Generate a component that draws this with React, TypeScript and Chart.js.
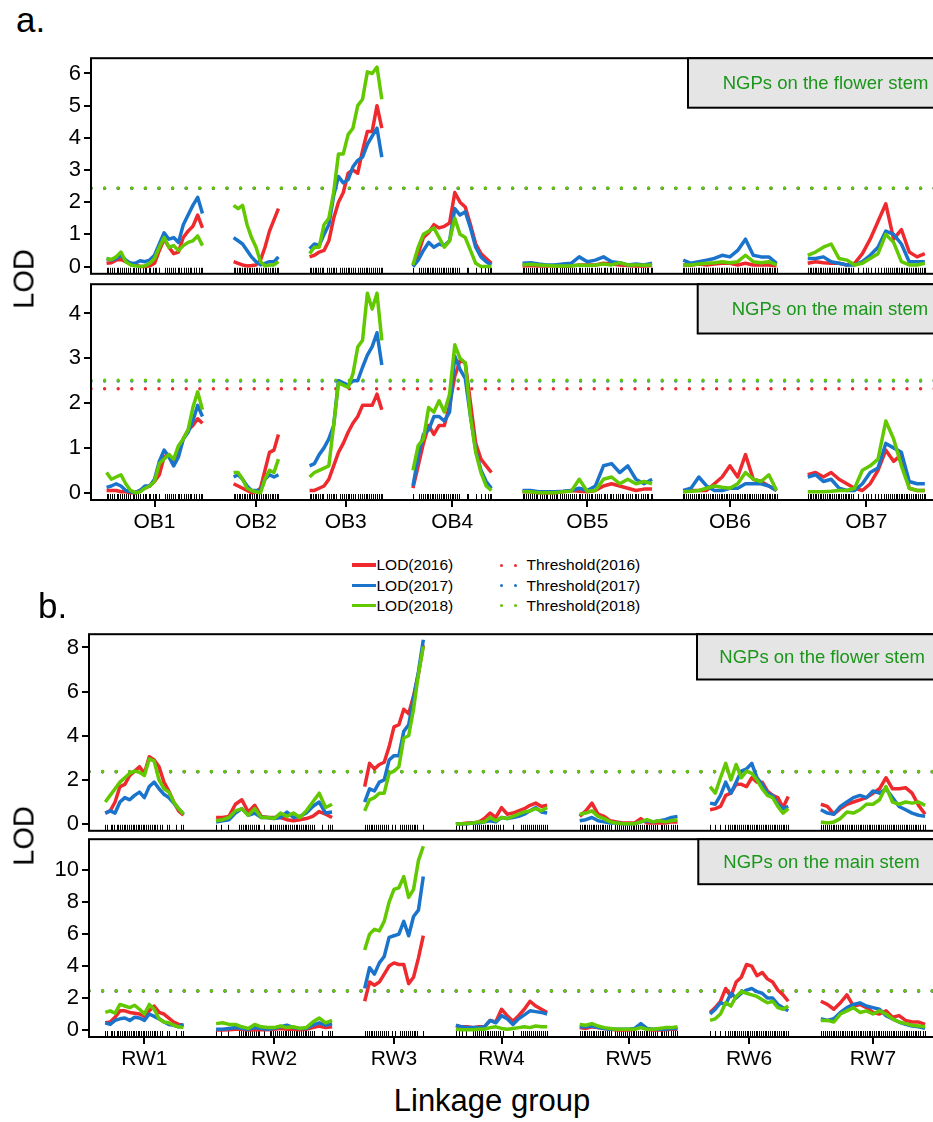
import React, { useEffect, useRef } from 'react';
import { Chart, registerables } from 'chart.js';

Chart.register(...registerables);

const FONT = "'Liberation Sans', Arial, Helvetica, sans-serif";
const RED = '#ee2a2e';
const BLUE = '#1b74cc';
const GREEN = '#62c800';
const TEXT_GREEN = '#1a961a';
const GAP = 25;

// ---------- maps ----------
const OB_NAMES = ['OB1', 'OB2', 'OB3', 'OB4', 'OB5', 'OB6', 'OB7'];
const OB_LENGTHS = [77, 36, 58, 63, 104, 75, 94];
const RW_NAMES = ['RW1', 'RW2', 'RW3', 'RW4', 'RW5', 'RW6', 'RW7'];
const RW_LENGTHS = [60, 89, 45, 70, 75, 60, 80];

const OB_MARKERS = [
  [0, 1.5, 3, 4.5, 6, 8, 9, 11, 12.5, 14, 16, 17.5, 19, 21, 22, 24, 25.5, 27, 29, 30.5, 32, 34, 35, 37, 39, 40, 42, 47, 48.5, 50, 52, 53.5, 55, 57, 58, 60, 62, 63.5, 65, 67, 68, 70, 72, 74, 76, 77],
  [0, 1, 2.5, 4, 5, 6.5, 8, 9.5, 11, 12, 13.5, 15, 16.5, 18, 19, 20.5, 22, 23.5, 25, 26, 27.5, 29, 30.5, 32, 33, 34.5, 36],
  [0, 1, 2.5, 4, 5.5, 7, 8.5, 10, 11, 14, 15.5, 17, 18.5, 20, 21, 24.5, 26, 27.5, 29, 30.5, 32, 33.5, 35, 36.5, 39, 40.5, 42, 43.5, 45, 46.5, 48, 49.5, 51, 52.5, 54, 55.5, 57, 58],
  [0, 5, 6.5, 8, 9.5, 11, 12, 13.5, 15, 16.5, 18, 19.5, 21, 22.5, 24, 25, 26.5, 28, 29.5, 31, 32.5, 34, 35, 37, 43, 44.5, 51, 55, 58, 60.5, 62, 63],
  [0, 1.5, 3, 4, 6, 7.5, 9, 11, 12, 14, 15.5, 17, 19, 20, 22, 23.5, 25, 27, 28, 30, 32, 33, 35, 36.5, 38, 40, 41, 43, 45, 46, 48, 50, 51.5, 53, 55, 56, 58, 60, 61.5, 63, 65, 66, 68, 70, 71, 73, 75, 76.5, 78, 80, 81, 83, 85, 86.5, 88, 90, 91, 93, 95, 96.5, 98, 100, 101, 103, 104],
  [0, 1, 2.5, 4, 5.5, 7, 8.5, 10, 11.5, 13, 14, 15.5, 17, 18.5, 20, 21.5, 23, 24, 25.5, 27, 28.5, 30, 31.5, 33, 34, 35.5, 37, 38.5, 40, 41.5, 43, 44, 45.5, 47, 48.5, 50, 51.5, 53, 54, 55.5, 57, 58.5, 60, 61.5, 63, 64, 65.5, 67, 68.5, 70, 71.5, 73, 74, 75],
  [0, 1.5, 3, 4, 5.5, 7, 8.5, 10, 11, 12.5, 14, 15.5, 17, 18, 19.5, 21, 22.5, 24, 25, 26.5, 28, 29.5, 31, 32, 33.5, 35, 36.5, 40, 44, 47, 48, 51, 54, 56, 59, 61, 63, 64.5, 66, 67.5, 69, 70.5, 72, 73, 74.5, 76, 77.5, 79, 80, 81.5, 83, 84.5, 86, 87, 88.5, 90, 91.5, 93, 94],
];

const RW_MARKERS = [
  [0, 1, 4, 5, 6.5, 9, 10, 11.5, 13, 14, 15.5, 17, 18, 19.5, 21, 22, 23.5, 25, 26, 27.5, 29, 30, 31.5, 33, 34, 35.5, 37, 38, 39.5, 42, 43.5, 47, 49, 54, 58, 60],
  [0, 4, 9, 17.5, 19, 20.5, 22, 23, 24.5, 26, 27.5, 29, 30.5, 32, 33, 37, 41, 42.5, 44, 45.5, 47, 48, 49.5, 51, 52.5, 54, 55, 56.5, 58, 59.5, 61, 62, 63.5, 65, 66.5, 68, 69, 70.5, 72, 73.5, 75, 81, 86, 87.5, 89],
  [0, 1.5, 3, 4.5, 6, 7.5, 9, 10.5, 12, 13.5, 15, 16.5, 18, 21, 23.5, 27, 28.5, 30, 31.5, 33, 34.5, 36, 37.5, 39, 40.5, 45],
  [0, 2.5, 5, 8, 13, 14.5, 16, 17.5, 19, 20.5, 22, 23.5, 25, 26.5, 28, 29.5, 31, 32.5, 34, 36, 44, 50, 51.5, 53, 54.5, 56, 57.5, 59, 60.5, 62, 63.5, 65, 66.5, 68, 70],
  [0, 1.5, 3, 4, 5.5, 7, 8.5, 10, 11, 12.5, 14, 15.5, 17, 18, 19.5, 21, 22.5, 24, 27, 28.5, 30, 32, 33.5, 35, 36.5, 38, 39, 40.5, 42, 43.5, 45, 46, 47.5, 49, 50.5, 52, 53, 54.5, 56, 57.5, 59, 62, 63.5, 65, 66.5, 68, 70, 71.5, 73, 75],
  [0, 3.5, 7.5, 11.5, 14, 15, 16.5, 18, 19.5, 21, 22, 23.5, 25, 26.5, 28, 29, 30.5, 32, 33.5, 35, 36, 37.5, 39, 40.5, 42, 43, 44.5, 46, 47.5, 49, 50, 51.5, 53, 54.5, 56, 57, 58.5, 60],
  [0, 1.5, 3, 4.5, 6, 7.5, 9, 10, 11.5, 13, 14.5, 16, 17, 18.5, 20, 21.5, 23, 24, 25.5, 27, 28.5, 30, 31, 32.5, 34, 35.5, 37, 38, 39.5, 41, 42.5, 44, 45, 46.5, 48, 49.5, 51, 52, 53.5, 55, 56.5, 58, 59, 60.5, 62, 63.5, 65, 66, 67.5, 69, 70.5, 72, 73, 74.5, 76, 78, 80],
];

// ---------- panel a: NGPs on the flower stem ----------
const A_FLOWER_2016 = [
  [0.1, 0.12, 0.2, 0.22, 0.15, 0.1, 0.05, 0.0, 0.0, 0.02, 0.1, 0.5, 0.85, 0.6, 0.4, 0.45, 0.9, 1.1, 1.25, 1.6, 1.2],
  [0.15, 0.1, 0.05, 0.02, 0.03, 0.05, 0.2, 0.6, 1.1, 1.45, 1.8],
  [0.3, 0.35, 0.45, 0.5, 0.8, 1.5, 2.0, 2.3, 2.9, 3.0, 2.9, 3.6, 4.2, 4.2, 5.0, 4.3],
  [0.05, 0.4, 0.9, 1.05, 1.3, 1.2, 1.25, 1.35, 2.3, 2.0, 1.85, 1.3, 0.7, 0.4, 0.25, 0.1],
  [0.02, 0.03, 0.02, 0.02, 0.03, 0.02, 0.02, 0.05, 0.05, 0.05, 0.1, 0.08, 0.05, 0.03, 0.02, 0.02, 0.03],
  [0.05, 0.05, 0.08, 0.05, 0.08, 0.1, 0.1, 0.05, 0.1, 0.05, 0.05, 0.05, 0.02],
  [0.1, 0.15, 0.12, 0.1, 0.1, 0.05, 0.1, 0.4, 0.85, 1.4, 1.95, 0.85, 1.15, 0.45, 0.3, 0.4],
];
const A_FLOWER_2017 = [
  [0.25, 0.2, 0.25, 0.35, 0.2, 0.1, 0.1, 0.18, 0.15, 0.2, 0.35, 0.7, 1.05, 0.85, 0.9, 0.75, 1.3, 1.6, 1.9, 2.15, 1.65],
  [0.9, 0.8, 0.7, 0.5, 0.3, 0.15, 0.05, 0.1, 0.15, 0.15, 0.3],
  [0.55, 0.7, 0.65, 1.0, 1.3, 2.2, 2.8, 2.6, 2.7, 3.1, 3.3, 3.4, 3.8, 4.05, 4.3, 3.4],
  [0.0, 0.2, 0.5, 0.75, 0.6, 0.7, 0.65, 0.8, 1.8, 1.6, 1.7, 1.2, 0.6, 0.3, 0.15, 0.05],
  [0.1, 0.12, 0.08, 0.05, 0.05, 0.08, 0.1, 0.3, 0.15, 0.2, 0.3, 0.15, 0.12, 0.05, 0.08, 0.05, 0.1],
  [0.2, 0.1, 0.15, 0.2, 0.25, 0.35, 0.3, 0.5, 0.85, 0.35, 0.3, 0.3, 0.1],
  [0.25, 0.25, 0.3, 0.15, 0.1, 0.05, 0.05, 0.15, 0.35, 0.6, 1.1, 1.0, 0.7, 0.15, 0.15, 0.15],
];
const A_FLOWER_2018 = [
  [0.25, 0.22, 0.3, 0.45, 0.15, 0.05, 0.02, 0.0, 0.02, 0.1, 0.25, 0.6, 0.9, 0.6, 0.65, 0.5, 0.65, 0.75, 0.8, 0.95, 0.65],
  [1.9, 1.8, 1.9, 1.3, 0.9, 0.6, 0.15, 0.02, 0.05, 0.05, 0.15],
  [0.4, 0.6, 0.6, 1.3, 1.5, 2.3, 3.5, 3.5, 4.1, 4.3, 5.0, 5.2, 6.05, 6.0, 6.2, 5.2],
  [0.05, 0.6, 1.0, 1.1, 1.2, 0.9, 0.6, 0.8, 1.5, 1.0, 0.9, 0.5, 0.1, 0.0, 0.0, 0.0],
  [0.05, 0.07, 0.05, 0.03, 0.02, 0.02, 0.02, 0.05, 0.03, 0.05, 0.08, 0.05, 0.12, 0.05, 0.05, 0.04, 0.05],
  [0.05, 0.05, 0.08, 0.1, 0.12, 0.15, 0.12, 0.15, 0.35, 0.15, 0.12, 0.15, 0.05],
  [0.35, 0.45, 0.6, 0.7, 0.25, 0.2, 0.05, 0.1, 0.25, 0.4, 1.0, 0.75, 0.15, 0.05, 0.05, 0.1],
];
const A_FLOWER_THRESH = [2.43, 2.43, 2.44];
const A_FLOWER_YTICKS = [0, 1, 2, 3, 4, 5, 6];

// ---------- panel a: NGPs on the main stem ----------
const A_MAIN_2016 = [
  [0.05, 0.05, 0.05, 0.02, 0.02, 0.0, 0.0, 0.05, 0.1, 0.15, 0.25, 0.4, 0.8, 0.85, 0.7, 0.9, 1.2, 1.4, 1.5, 1.65, 1.55],
  [0.2, 0.15, 0.1, 0.05, 0.0, 0.02, 0.1, 0.5, 0.9, 0.95, 1.3],
  [0.05, 0.05, 0.1, 0.15, 0.3, 0.6, 0.9, 1.1, 1.35, 1.55, 1.7, 1.95, 1.95, 1.95, 2.2, 1.85],
  [0.1, 0.6, 1.1, 1.5, 1.3, 1.5, 1.5, 1.95, 2.6, 2.95, 2.9, 2.0, 1.1, 0.75, 0.6, 0.45],
  [0.02, 0.02, 0.0, 0.0, 0.0, 0.02, 0.05, 0.03, 0.02, 0.05, 0.15, 0.2, 0.15, 0.1, 0.05, 0.08, 0.08],
  [0.02, 0.05, 0.05, 0.05, 0.2, 0.35, 0.6, 0.35, 0.85, 0.3, 0.25, 0.15, 0.05],
  [0.4, 0.45, 0.35, 0.45, 0.3, 0.2, 0.1, 0.05, 0.2, 0.5, 0.95, 0.7, 0.85, 0.1, 0.05, 0.05],
];
const A_MAIN_2017 = [
  [0.12, 0.15, 0.2, 0.15, 0.05, 0.02, 0.0, 0.05, 0.15, 0.15, 0.3, 0.7, 0.95, 0.8, 0.6, 0.8, 1.2, 1.35, 1.6, 1.95, 1.7],
  [0.35, 0.4, 0.3, 0.15, 0.05, 0.05, 0.05, 0.3, 0.4, 0.35, 0.4],
  [0.6, 0.65, 0.85, 1.0, 1.2, 1.5, 2.5, 2.45, 2.4, 2.5, 2.5, 2.8, 3.07, 3.26, 3.57, 2.85],
  [0.15, 0.8, 1.3, 1.4, 1.7, 1.7, 1.6, 1.8, 3.05, 2.75, 2.55, 1.7, 0.95, 0.5, 0.25, 0.1],
  [0.05, 0.05, 0.02, 0.02, 0.02, 0.03, 0.05, 0.1, 0.05, 0.15, 0.6, 0.65, 0.45, 0.6, 0.3, 0.2, 0.3],
  [0.05, 0.1, 0.35, 0.15, 0.05, 0.05, 0.1, 0.1, 0.2, 0.2, 0.2, 0.15, 0.05],
  [0.35, 0.4, 0.25, 0.3, 0.1, 0.05, 0.05, 0.2, 0.45, 0.55, 1.1, 1.0, 0.9, 0.25, 0.2, 0.2],
];
const A_MAIN_2018 = [
  [0.45, 0.3, 0.35, 0.4, 0.2, 0.05, 0.0, 0.02, 0.1, 0.15, 0.25, 0.65, 0.75, 0.85, 0.75, 1.05, 1.2, 1.4, 1.9, 2.25, 1.85],
  [0.45, 0.45, 0.3, 0.1, 0.05, 0.02, 0.0, 0.3, 0.5, 0.45, 0.75],
  [0.35, 0.45, 0.5, 0.55, 0.6, 1.5, 2.45, 2.4, 2.35, 2.65, 3.25, 3.4, 4.45, 4.1, 4.45, 3.4],
  [0.5, 1.05, 1.2, 1.9, 1.8, 2.05, 1.8, 2.2, 3.3, 3.0, 2.9, 1.7, 0.9, 0.45, 0.15, 0.05],
  [0.02, 0.02, 0.0, 0.0, 0.0, 0.02, 0.03, 0.3, 0.03, 0.05, 0.3, 0.35, 0.2, 0.3, 0.2, 0.25, 0.2],
  [0.02, 0.03, 0.05, 0.1, 0.15, 0.12, 0.1, 0.2, 0.45, 0.3, 0.25, 0.4, 0.05],
  [0.02, 0.02, 0.02, 0.03, 0.05, 0.05, 0.1, 0.5, 0.6, 0.75, 1.6, 1.2, 0.6, 0.1, 0.05, 0.05],
];
const A_MAIN_THRESH = [2.32, 2.49, 2.51];
const A_MAIN_YTICKS = [0, 1, 2, 3, 4];

// ---------- panel b: NGPs on the flower stem ----------
const B_FLOWER_2016 = [
  [0.5, 0.6, 1.0, 1.7, 1.8, 2.2, 2.4, 2.6, 2.3, 3.05, 2.9, 2.6, 1.9, 1.5, 1.0, 0.6, 0.4],
  [0.3, 0.3, 0.35, 0.9, 1.1, 0.55, 0.85, 0.35, 0.3, 0.3, 0.3, 0.2, 0.15, 0.2, 0.25, 0.35, 0.57, 0.45, 0.3],
  [1.7, 2.75, 2.5, 2.7, 2.8, 3.5, 4.4, 4.5, 5.2, 5.0, 5.8, 6.8, 8.1],
  [0.0, 0.02, 0.05, 0.05, 0.1, 0.25, 0.5, 0.3, 0.75, 0.45, 0.5, 0.6, 0.7, 0.85, 0.95, 0.8, 0.85],
  [0.35, 0.6, 0.95, 0.45, 0.35, 0.15, 0.1, 0.05, 0.05, 0.05, 0.25, 0.05, 0.05, 0.05, 0.05, 0.1, 0.1],
  [0.65, 0.7, 0.8, 1.3, 1.4, 1.8, 1.8, 1.7, 2.1, 1.9, 1.9, 1.5, 1.3, 1.2, 0.75, 1.25],
  [0.9, 0.8, 0.45, 0.7, 0.9, 1.0, 1.1, 1.2, 1.4, 1.6, 2.1, 1.6, 1.6, 1.65, 1.4, 0.85, 0.45],
];
const B_FLOWER_2017 = [
  [0.5, 0.6, 0.5, 1.0, 1.2, 1.1, 1.3, 1.45, 1.2, 1.7, 1.9, 1.6, 1.35, 1.2, 0.95, 0.7, 0.45],
  [0.1, 0.15, 0.2, 0.5, 0.7, 0.4, 0.5, 0.3, 0.3, 0.25, 0.3, 0.55, 0.3, 0.35, 0.5, 0.8, 1.0, 0.5, 0.55],
  [1.0, 1.6, 1.5, 1.9, 2.0, 2.9, 3.1, 3.1, 4.2, 4.5, 5.7, 6.9, 8.35],
  [0.0, 0.02, 0.02, 0.05, 0.05, 0.1, 0.15, 0.1, 0.3, 0.25, 0.3, 0.35, 0.45, 0.6, 0.75, 0.55, 0.5],
  [0.15, 0.2, 0.3, 0.15, 0.1, 0.05, 0.05, 0.02, 0.02, 0.02, 0.1, 0.15, 0.1, 0.15, 0.2, 0.3, 0.35],
  [0.95, 0.9, 1.3, 1.9, 1.4, 1.9, 2.4, 2.5, 2.75, 2.1, 1.8, 1.4, 1.3, 0.9, 0.7, 0.8],
  [0.65, 0.5, 0.45, 0.8, 1.0, 1.2, 1.3, 1.2, 1.5, 1.4, 1.6, 1.2, 0.8, 0.65, 0.5, 0.4, 0.35],
];
const B_FLOWER_2018 = [
  [1.0, 1.3, 1.6, 1.9, 2.1, 2.3, 2.4, 2.35, 2.2, 2.95, 2.85, 2.0, 1.6, 1.45, 1.0, 0.7, 0.45],
  [0.15, 0.2, 0.3, 0.6, 0.7, 0.4, 0.7, 0.3, 0.3, 0.25, 0.5, 0.35, 0.5, 0.3, 0.6, 1.0, 1.4, 0.75, 0.9],
  [0.6, 1.1, 1.2, 1.4, 1.4, 2.3, 2.4, 2.6, 3.9, 4.0, 5.2, 6.8, 8.05],
  [0.0, 0.02, 0.03, 0.05, 0.1, 0.1, 0.3, 0.15, 0.3, 0.25, 0.35, 0.45, 0.55, 0.6, 0.7, 0.6, 0.75],
  [0.45, 0.5, 0.6, 0.35, 0.25, 0.1, 0.05, 0.02, 0.02, 0.02, 0.1, 0.2, 0.1, 0.15, 0.1, 0.15, 0.2],
  [1.7, 1.4, 2.1, 2.75, 2.0, 2.7, 2.1, 2.4, 2.3, 2.0, 1.6, 1.3, 1.2, 0.8, 0.5, 0.7],
  [0.1, 0.05, 0.1, 0.25, 0.55, 0.5, 0.65, 0.9, 0.9, 1.1, 1.7, 1.0, 0.9, 1.0, 0.95, 1.0, 0.85],
];
const B_FLOWER_THRESH = [2.37, 2.37, 2.38];
const B_FLOWER_YTICKS = [0, 2, 4, 6, 8];

// ---------- panel b: NGPs on the main stem ----------
const B_MAIN_2016 = [
  [0.45, 0.5, 0.8, 1.2, 1.2, 1.1, 1.05, 1.0, 0.85, 1.2, 1.5, 1.1, 1.0, 0.75, 0.5, 0.35, 0.3],
  [0.0, 0.0, 0.02, 0.05, 0.05, 0.0, 0.02, 0.02, 0.02, 0.05, 0.1, 0.05, 0.05, 0.02, 0.05, 0.15, 0.25, 0.15, 0.2],
  [1.8, 3.0, 2.8, 3.0, 3.5, 4.0, 4.2, 4.1, 4.1, 2.9, 3.3, 4.5, 5.9],
  [0.25, 0.2, 0.2, 0.15, 0.2, 0.2, 0.6, 0.5, 1.3, 0.9, 0.55, 0.9, 1.3, 1.8, 1.5, 1.3, 1.1],
  [0.15, 0.1, 0.2, 0.15, 0.1, 0.05, 0.0, 0.0, 0.0, 0.05, 0.2, 0.05, 0.0, 0.0, 0.02, 0.05, 0.05],
  [1.1, 1.4, 1.8, 2.6, 2.1, 3.0, 3.3, 4.1, 4.0, 3.4, 3.6, 3.2, 3.0, 2.5, 2.2, 1.8],
  [1.8, 1.6, 1.3, 1.7, 2.2, 1.5, 1.6, 1.4, 1.1, 1.0, 1.2, 0.8, 0.9, 0.6, 0.5, 0.5, 0.35],
];
const B_MAIN_2017 = [
  [0.45, 0.35, 0.6, 0.7, 0.75, 0.6, 0.8, 0.75, 0.6, 1.0, 0.85, 0.7, 0.5, 0.35, 0.3, 0.2, 0.35],
  [0.05, 0.05, 0.1, 0.15, 0.1, 0.05, 0.15, 0.1, 0.05, 0.1, 0.2, 0.3, 0.15, 0.1, 0.1, 0.3, 0.45, 0.3, 0.4],
  [2.6, 3.9, 3.5, 4.2, 4.6, 5.8, 5.9, 6.0, 6.8, 5.9, 7.1, 7.5, 9.6],
  [0.3, 0.2, 0.15, 0.15, 0.15, 0.2, 0.6, 0.45, 0.9, 0.7, 0.35, 0.7, 0.95, 1.2, 1.15, 1.1, 1.0],
  [0.2, 0.2, 0.25, 0.15, 0.1, 0.05, 0.05, 0.05, 0.05, 0.1, 0.4, 0.1, 0.05, 0.05, 0.05, 0.1, 0.1],
  [1.0, 1.3, 1.7, 1.6, 2.3, 2.0, 2.3, 2.5, 2.6, 2.4, 2.3, 2.0, 2.0, 1.6, 1.4, 1.2],
  [0.7, 0.6, 0.7, 1.1, 1.4, 1.6, 1.7, 1.5, 1.4, 1.3, 0.9, 0.7, 0.5, 0.35, 0.25, 0.2, 0.1],
];
const B_MAIN_2018 = [
  [1.1, 1.2, 1.05, 1.6, 1.5, 1.4, 1.55, 1.3, 1.0, 1.6, 1.3, 0.7, 0.5, 0.45, 0.3, 0.2, 0.15],
  [0.4, 0.45, 0.35, 0.35, 0.2, 0.1, 0.35, 0.2, 0.15, 0.15, 0.25, 0.15, 0.2, 0.1, 0.15, 0.5, 0.75, 0.45, 0.6],
  [5.0, 6.0, 6.3, 6.2, 6.8, 8.0, 8.8, 8.9, 9.6, 8.3, 8.8, 10.6, 11.5],
  [0.05, 0.02, 0.02, 0.02, 0.05, 0.05, 0.15, 0.2, 0.1, 0.05, 0.1, 0.15, 0.2, 0.15, 0.25, 0.2, 0.2],
  [0.35, 0.3, 0.4, 0.25, 0.15, 0.1, 0.05, 0.05, 0.05, 0.05, 0.15, 0.05, 0.05, 0.1, 0.15, 0.15, 0.2],
  [0.6, 0.7, 1.0, 1.7, 1.5, 2.1, 2.4, 2.3, 2.2, 2.1, 1.9, 1.7, 1.8, 1.4, 1.3, 1.5],
  [0.6, 0.6, 0.5, 1.0, 1.2, 1.4, 1.1, 1.2, 1.0, 1.2, 1.0, 0.7, 0.5, 0.4, 0.3, 0.25, 0.2],
];
const B_MAIN_THRESH = [2.44, 2.44, 2.45];
const B_MAIN_YTICKS = [0, 2, 4, 6, 8, 10];

const LEGEND_LINES = ['LOD(2016)', 'LOD(2017)', 'LOD(2018)'];
const LEGEND_THRESH = ['Threshold(2016)', 'Threshold(2017)', 'Threshold(2018)'];
const COLORS = [RED, BLUE, GREEN];

// ---------- helpers ----------
function offsets(lengths: number[]) {
  const out: number[] = [];
  let pos = GAP / 2;
  for (const L of lengths) {
    out.push(pos);
    pos += L + GAP;
  }
  return out;
}
function totalLen(lengths: number[]) {
  return lengths.reduce((a, b) => a + b, 0) + GAP * lengths.length;
}
function seriesPoints(lengths: number[], values: number[][]) {
  const offs = offsets(lengths);
  const pts: { x: number; y: number | null }[] = [];
  values.forEach((chrom, i) => {
    const n = chrom.length;
    chrom.forEach((v, j) => pts.push({ x: offs[i] + (lengths[i] * j) / (n - 1), y: v }));
    pts.push({ x: offs[i] + lengths[i] + GAP / 2, y: null });
  });
  return pts;
}

const decorPlugin = {
  id: 'decor',
  beforeDatasetsDraw(chart: any, _a: any, opts: any) {
    const { ctx, chartArea: ca, scales } = chart;
    ctx.save();
    ctx.strokeStyle = '#000';
    ctx.lineWidth = 1;
    ctx.beginPath();
    for (const m of opts.markers as number[]) {
      const x = Math.round(scales.x.getPixelForValue(m)) + 0.5;
      ctx.moveTo(x, ca.bottom - 6);
      ctx.lineTo(x, ca.bottom);
    }
    ctx.stroke();
    ctx.restore();
  },
  afterDraw(chart: any, _a: any, opts: any) {
    const { ctx, chartArea: ca } = chart;
    ctx.save();
    ctx.strokeStyle = '#000';
    ctx.lineWidth = 2;
    ctx.strokeRect(ca.left, ca.top, ca.right - ca.left, ca.bottom - ca.top);
    const b = opts.box;
    const w = ca.right - b.left + 10;
    ctx.fillStyle = '#e5e5e5';
    ctx.fillRect(b.left, ca.top, w, b.height);
    ctx.strokeRect(b.left, ca.top, w, b.height);
    ctx.fillStyle = TEXT_GREEN;
    ctx.font = `18.5px ${FONT}`;
    ctx.textAlign = 'left';
    ctx.textBaseline = 'middle';
    ctx.fillText(b.text, b.textLeft, ca.top + b.height / 2 + 1);
    ctx.restore();
  },
};

interface PanelSpec {
  lengths: number[];
  names: string[];
  markers: number[][];
  series: number[][][];
  thresholds: number[];
  yMin: number;
  yMax: number;
  yTicks: number[];
  yAxisWidth: number;
  showX: boolean;
  xAxisHeight: number;
  padRight: number;
  box: { left: number; height: number; text: string; textLeft: number };
}

function makeConfig(p: PanelSpec): any {
  const total = totalLen(p.lengths);
  const offs = offsets(p.lengths);
  const centers = offs.map((o, i) => o + p.lengths[i] / 2);
  const markerAbs = p.markers.flatMap((ms, i) => ms.map((m) => offs[i] + m));
  const lineDatasets = p.series.map((s, k) => ({
    data: seriesPoints(p.lengths, s),
    borderColor: COLORS[k],
    backgroundColor: COLORS[k],
    borderWidth: 3.5,
    pointRadius: 0,
    tension: 0,
    borderJoinStyle: 'round',
    spanGaps: false,
    fill: false,
    order: 3 - k,
  }));
  const threshDatasets = p.thresholds.map((t, k) => ({
    data: [
      { x: 0, y: t },
      { x: total, y: t },
    ],
    borderColor: COLORS[k],
    backgroundColor: COLORS[k],
    borderWidth: 3.4,
    borderDash: [0, 13.6],
    borderCapStyle: 'round',
    pointRadius: 0,
    fill: false,
    order: 6 - k,
  }));
  const grid = { drawOnChartArea: false, drawTicks: true, tickLength: 7, color: '#000', lineWidth: 2 };
  return {
    type: 'line',
    data: { datasets: [...lineDatasets, ...threshDatasets] },
    plugins: [decorPlugin],
    options: {
      responsive: false,
      animation: false,
      events: [],
      layout: { padding: { top: 16, right: p.padRight, bottom: p.showX ? 0 : 16, left: 0 } },
      plugins: {
        legend: { display: false },
        tooltip: { enabled: false },
        decor: { markers: markerAbs, box: p.box },
      },
      scales: {
        x: {
          type: 'linear',
          min: 0,
          max: total,
          display: p.showX,
          afterBuildTicks: (s: any) => {
            s.ticks = centers.map((v) => ({ value: v }));
          },
          afterFit: (s: any) => {
            s.height = p.xAxisHeight;
          },
          ticks: {
            autoSkip: false,
            maxRotation: 0,
            minRotation: 0,
            padding: 3,
            color: '#000',
            font: { size: 21, family: FONT },
            callback: (_v: any, i: number) => p.names[i],
          },
          grid,
          border: { display: false },
        },
        y: {
          type: 'linear',
          min: p.yMin,
          max: p.yMax,
          afterBuildTicks: (s: any) => {
            s.ticks = p.yTicks.map((v) => ({ value: v }));
          },
          afterFit: (s: any) => {
            s.width = p.yAxisWidth;
          },
          ticks: { padding: 3, color: '#000', font: { size: 22, family: FONT } },
          grid,
          border: { display: false },
        },
      },
    },
  };
}

function ChartCanvas({ spec, top, height }: { spec: PanelSpec; top: number; height: number }) {
  const ref = useRef<HTMLCanvasElement>(null);
  useEffect(() => {
    const chart = new Chart(ref.current as HTMLCanvasElement, makeConfig(spec));
    return () => chart.destroy();
  }, []);
  return (
    <canvas
      ref={ref}
      width={960}
      height={height}
      style={{ position: 'absolute', left: 0, top, width: 960, height }}
    />
  );
}

const SPEC_A1: PanelSpec = {
  lengths: OB_LENGTHS, names: OB_NAMES, markers: OB_MARKERS,
  series: [A_FLOWER_2016, A_FLOWER_2017, A_FLOWER_2018], thresholds: A_FLOWER_THRESH,
  yMin: -0.226, yMax: 6.475, yTicks: A_FLOWER_YTICKS, yAxisWidth: 91,
  showX: false, xAxisHeight: 0, padRight: 19.6,
  box: { left: 688, height: 49.5, text: 'NGPs on the flower stem', textLeft: 722.7 },
};
const SPEC_A2: PanelSpec = {
  lengths: OB_LENGTHS, names: OB_NAMES, markers: OB_MARKERS,
  series: [A_MAIN_2016, A_MAIN_2017, A_MAIN_2018], thresholds: A_MAIN_THRESH,
  yMin: -0.163, yMax: 4.653, yTicks: A_MAIN_YTICKS, yAxisWidth: 91,
  showX: true, xAxisHeight: 44, padRight: 19.6,
  box: { left: 697.7, height: 49.3, text: 'NGPs on the main stem', textLeft: 731.7 },
};
const SPEC_B1: PanelSpec = {
  lengths: RW_LENGTHS, names: RW_NAMES, markers: RW_MARKERS,
  series: [B_FLOWER_2016, B_FLOWER_2017, B_FLOWER_2018], thresholds: B_FLOWER_THRESH,
  yMin: -0.303, yMax: 8.6, yTicks: B_FLOWER_YTICKS, yAxisWidth: 89,
  showX: false, xAxisHeight: 0, padRight: 18.6,
  box: { left: 697, height: 45.3, text: 'NGPs on the flower stem', textLeft: 719.3 },
};
const SPEC_B2: PanelSpec = {
  lengths: RW_LENGTHS, names: RW_NAMES, markers: RW_MARKERS,
  series: [B_MAIN_2016, B_MAIN_2017, B_MAIN_2018], thresholds: B_MAIN_THRESH,
  yMin: -0.4375, yMax: 11.94, yTicks: B_MAIN_YTICKS, yAxisWidth: 89,
  showX: true, xAxisHeight: 42, padRight: 18.6,
  box: { left: 698.3, height: 45, text: 'NGPs on the main stem', textLeft: 723.3 },
};

const abs = (s: React.CSSProperties): React.CSSProperties => ({ position: 'absolute', whiteSpace: 'nowrap', ...s });

function Legend() {
  const rows = [565, 585.5, 605.5];
  return (
    <>
      {rows.map((cy, i) => (
        <React.Fragment key={i}>
          <div style={abs({ left: 352, top: cy - 1.75, width: 24, height: 3.5, background: COLORS[i] })} />
          <div style={abs({ left: 376.5, top: cy - 7.8, fontSize: 15.5, lineHeight: '15.5px' })}>{LEGEND_LINES[i]}</div>
          <div style={abs({ left: 499.5, top: cy - 1.5, width: 3, height: 3, borderRadius: 2, background: COLORS[i] })} />
          <div style={abs({ left: 513.5, top: cy - 1.5, width: 3, height: 3, borderRadius: 2, background: COLORS[i] })} />
          <div style={abs({ left: 526.5, top: cy - 7.8, fontSize: 15.5, lineHeight: '15.5px' })}>{LEGEND_THRESH[i]}</div>
        </React.Fragment>
      ))}
    </>
  );
}

export default function App() {
  return (
    <div
      style={{
        position: 'absolute', left: 0, top: 0, width: 933, height: 1122,
        overflow: 'hidden', background: '#fff', fontFamily: FONT, color: '#000',
      }}
    >
      <ChartCanvas spec={SPEC_A1} top={42} height={248} />
      <ChartCanvas spec={SPEC_A2} top={268} height={276} />
      <ChartCanvas spec={SPEC_B1} top={618} height={229} />
      <ChartCanvas spec={SPEC_B2} top={823} height={256} />

      <div style={abs({ left: 16, top: 2, fontSize: 35, lineHeight: '35px' })}>a.</div>
      <div style={abs({ left: 38, top: 588, fontSize: 35, lineHeight: '35px' })}>b.</div>

      <div style={abs({ left: 24, top: 279, fontSize: 29, lineHeight: '29px', transform: 'translate(-50%,-50%) rotate(-90deg)' })}>LOD</div>
      <div style={abs({ left: 24, top: 835.5, fontSize: 29, lineHeight: '29px', transform: 'translate(-50%,-50%) rotate(-90deg)' })}>LOD</div>

      <div style={abs({ left: 492, top: 1085, fontSize: 31, lineHeight: '31px', transform: 'translateX(-50%)' })}>Linkage group</div>

      <Legend />
    </div>
  );
}
